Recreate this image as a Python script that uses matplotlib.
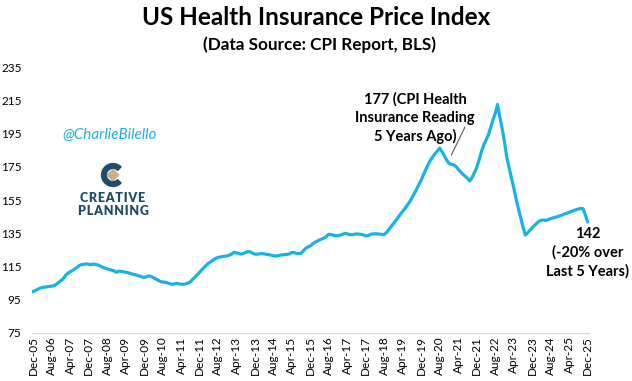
import numpy as np
import pandas as pd
import matplotlib
matplotlib.use("Agg")
from matplotlib import pyplot as plt
from matplotlib.patches import Wedge, Polygon

# CPI Health Insurance index, monthly, Dec-05 .. Dec-25
start_month = "2005-12"
val_2005 = [100.0]
val_2006 = [100.5, 101.3, 102.0, 102.4, 102.6, 102.8, 103.0, 103.2, 103.4, 104.3, 105.4, 106.4]
val_2007 = [107.6, 109.6, 110.9, 111.8, 112.6, 113.5, 114.5, 115.6, 116.2, 116.3, 116.6, 116.4]
val_2008 = [116.1, 116.5, 116.3, 115.9, 115.3, 114.6, 114.1, 113.6, 113.2, 112.8, 112.4, 111.5]
val_2009 = [112.2, 112.1, 111.8, 111.6, 111.3, 110.9, 110.4, 110.1, 109.7, 109.3, 108.8, 108.4]
val_2010 = [108.9, 109.3, 109.0, 108.3, 107.6, 106.8, 106.0, 105.7, 105.5, 105.2, 104.8, 104.3]
val_2011 = [104.5, 104.9, 104.6, 104.4, 104.3, 104.6, 105.0, 105.7, 107.2, 108.6, 110.0, 111.5]
val_2012 = [113.0, 114.4, 115.9, 117.0, 118.0, 119.0, 119.8, 120.4, 120.7, 121.0, 121.2, 121.4]
val_2013 = [121.9, 122.6, 123.5, 123.2, 122.8, 122.5, 122.9, 123.5, 124.0, 123.8, 123.0, 122.5]
val_2014 = [122.4, 122.6, 122.8, 122.6, 122.3, 122.1, 121.8, 121.5, 121.3, 121.5, 121.8, 122.0]
val_2015 = [122.2, 122.3, 122.6, 123.5, 123.3, 122.9, 122.8, 123.0, 124.5, 126.0, 126.8, 127.5]
val_2016 = [128.5, 129.6, 130.3, 131.0, 131.6, 132.2, 133.2, 134.4, 134.2, 133.8, 133.5, 133.6]
val_2017 = [133.9, 134.3, 135.0, 134.6, 134.2, 134.1, 134.4, 134.6, 134.5, 134.3, 134.0, 133.4]
val_2018 = [133.6, 134.3, 134.6, 134.7, 134.6, 134.5, 134.3, 134.2, 135.5, 137.3, 139.0, 140.8]
val_2019 = [142.7, 144.6, 146.5, 148.2, 150.0, 152.0, 154.0, 156.5, 159.0, 161.5, 164.5, 167.0]
val_2020 = [170.5, 173.5, 176.5, 179.0, 181.0, 183.0, 184.5, 186.2, 184.0, 181.5, 179.0, 177.0]
val_2021 = [176.5, 176.2, 175.2, 173.5, 172.0, 170.5, 169.3, 168.0, 166.5, 168.5, 171.5, 174.5]
val_2022 = [179.0, 184.0, 188.0, 191.0, 194.0, 198.5, 203.0, 207.0, 212.5, 205.0, 198.0, 190.0]
val_2023 = [181.0, 174.5, 168.5, 162.5, 156.0, 150.0, 144.5, 139.0, 134.0, 135.2, 136.8, 138.3]
val_2024 = [139.7, 141.0, 142.3, 142.8, 143.0, 142.7, 143.3, 143.8, 144.2, 144.6, 145.0, 145.5]
val_2025 = [146.0, 146.6, 147.0, 147.6, 148.1, 148.7, 149.2, 149.6, 149.9, 149.8, 146.0, 142.0]

values = (val_2005 + val_2006 + val_2007 + val_2008 + val_2009 + val_2010 + val_2011
          + val_2012 + val_2013 + val_2014 + val_2015 + val_2016 + val_2017 + val_2018
          + val_2019 + val_2020 + val_2021 + val_2022 + val_2023 + val_2024 + val_2025)
dates = pd.date_range(start_month, periods=len(values), freq="MS")
labels = [d.strftime("%b-%y") for d in dates]

note_5y = "177 (CPI Health\nInsurance Reading\n5 Years Ago)"
note_last = "142\n(-20% over\nLast 5 Years)"

line_color = "#17B3E8"
logo_color = "#1E4D6B"
plt.rcParams["font.family"] = ["Lato", "DejaVu Sans"]

fig = plt.figure(figsize=(6.32, 3.81), dpi=100)
ax = fig.add_axes([0.0506, 0.126, 0.881, 0.698])
x = np.arange(len(values))
ax.plot(x, values, color=line_color, lw=2.3, solid_joinstyle="round")

ax.set_xlim(-0.5, len(values) - 0.5)
ax.set_ylim(75, 235)
ax.set_yticks(np.arange(75, 236, 20))
ax.set_xticks(x[::8])
ax.set_xticklabels(labels[::8], rotation=90, fontsize=8.5)
ax.tick_params(axis="y", labelsize=8.5, length=0, pad=7.5)
ax.tick_params(axis="x", length=0, pad=2.5)
for s in ["top", "right", "left"]:
    ax.spines[s].set_visible(False)
ax.spines["bottom"].set_color("#D9D9D9")

# annotations
i5 = labels.index("Dec-20")
fig.text(415 / 632, (381 - 118) / 381, note_5y, ha="center", va="center", fontsize=10.5,
         fontweight="bold", linespacing=1.35)
ax.annotate("", xy=(i5 + 1, values[i5] + 5), xytext=(465, 381 - 127), textcoords="figure pixels",
            arrowprops=dict(arrowstyle="-", color="#595959", lw=0.8, shrinkA=0, shrinkB=0))
ax.text(len(values) - 1, values[-1] - 3.5, note_last, ha="center", va="top", fontsize=10.5,
        fontweight="bold", linespacing=1.35)

fig.text(0.5, 0.955, "US Health Insurance Price Index", ha="center", va="center",
         fontsize=17.5, fontweight="bold")
fig.text(0.505, 0.883, "(Data Source: CPI Report, BLS)", ha="center", va="center",
         fontsize=12.3, fontweight="bold")

# watermark + logo
fig.text(0.098, 0.646, "@CharlieBilello", color="#1EB0E6", fontsize=11, style="italic",
         va="center", ha="left")
lax = fig.add_axes([113 / 632 - 0.02, (381 - 175) / 381 - 0.033, 0.04, 0.066])
lax.set_xlim(-1.1, 1.1)
lax.set_ylim(-1.1, 1.1)
lax.set_aspect("equal")
lax.axis("off")
lax.add_patch(Wedge((0, 0), 1.0, 45, 315, width=0.42, color=logo_color))
lax.add_patch(Polygon([(0.0, 0.5), (0.5, 0.0), (0.0, -0.5), (-0.5, 0.0)], color="#C6B08A"))
for word, ypix in [("CREATIVE", 198), ("PLANNING", 211)]:
    fig.text(113 / 632, (381 - ypix) / 381, "\u200a".join(word), color=logo_color, fontsize=9,
             fontweight="heavy", ha="center", va="center")

fig.savefig("out.png", dpi=100)
